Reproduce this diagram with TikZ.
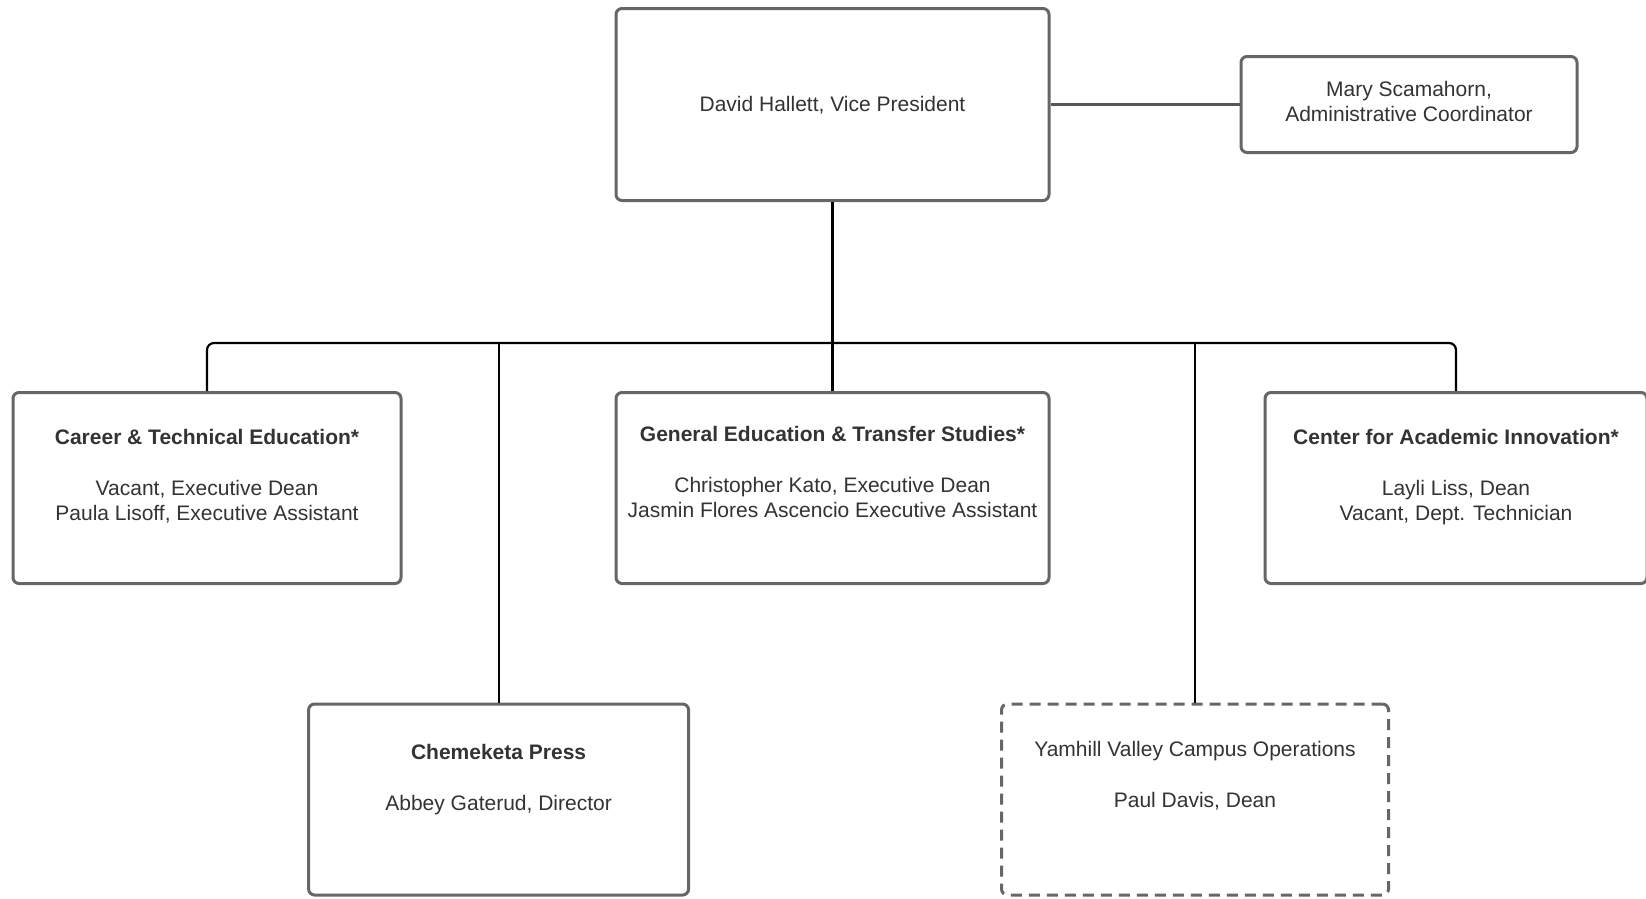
\documentclass[tikz,border=0pt]{standalone}
\usepackage{fontspec}
\setmainfont{Liberation Sans}
\definecolor{txt}{HTML}{333333}
\definecolor{bord}{HTML}{666666}
\newcommand{\gap}{\\[25.2pt]}
\begin{document}
\begin{tikzpicture}[x=1pt,y=-1pt,
  box/.style={draw=bord, line width=3pt, rounded corners=6pt, fill=white, inner sep=0pt},
  dbox/.style={box, dash pattern=on 11pt off 7pt},
  lbl/.style={text=txt, font=\fontsize{21}{25.2}\selectfont, align=center, inner sep=0pt},
  conn/.style={draw=black, line width=2.2pt}]
\useasboundingbox (0,0) rectangle (1646,898);
% boxes
\node[box, minimum width=433pt, minimum height=192pt] (vp) at (832.5,104.5) {};
\node[box, minimum width=336pt, minimum height=96pt] (mary) at (1409,104.5) {};
\node[box, minimum width=388pt, minimum height=191pt] (cte) at (207,488) {};
\node[box, minimum width=433pt, minimum height=191pt] (ged) at (832.5,488) {};
\node[box, minimum width=382pt, minimum height=191pt] (cai) at (1456,488) {};
\node[box, minimum width=380pt, minimum height=191pt] (press) at (498.6,799.5) {};
\node[dbox, minimum width=387pt, minimum height=191pt] (yam) at (1195,799.5) {};
% texts
\node[lbl] (vpt) at ([yshift=-1pt]vp.center) {David Hallett, Vice President};
\node[lbl] (maryt) at ([yshift=3pt]mary.center) {Mary Scamahorn,\\Administrative Coordinator};
\node[lbl, anchor=north] (ctet) at ([yshift=-38.5pt]cte.north) {\textbf{Career \& Technical Education*}\gap Vacant, Executive Dean\\Paula Lisoff, Executive Assistant};
\node[lbl, anchor=north] (gedt) at ([yshift=-35.5pt]ged.north) {\textbf{General Education \& Transfer Studies*}\gap Christopher Kato, Executive Dean\\Jasmin Flores Ascencio Executive Assistant};
\node[lbl, anchor=north] (cait) at ([yshift=-38.5pt]cai.north) {\textbf{Center for Academic Innovation*}\gap Layli Liss, Dean\\Vacant, Dept. Technician};
\node[lbl, anchor=north] (presst) at ([yshift=-42pt]press.north) {\textbf{Chemeketa Press}\gap Abbey Gaterud, Director};
\node[lbl, anchor=north] (yamt) at ([yshift=-39pt]yam.north) {Yamhill Valley Campus Operations\gap Paul Davis, Dean};
% connectors
\coordinate (bus) at (832.5,343);
\draw[conn, line width=2.2pt, draw=bord!85!black] (vp.east) -- (mary.west);
\draw[conn] (vp.south) -- (ged.north);
\draw[conn, rounded corners=7pt] (cte.north) -- (cte.north |- bus) -- (cai.north |- bus) -- (cai.north);
\draw[conn] (press.north |- bus) -- (press.north);
\draw[conn] (yam.north |- bus) -- (yam.north);
\end{tikzpicture}
\end{document}
